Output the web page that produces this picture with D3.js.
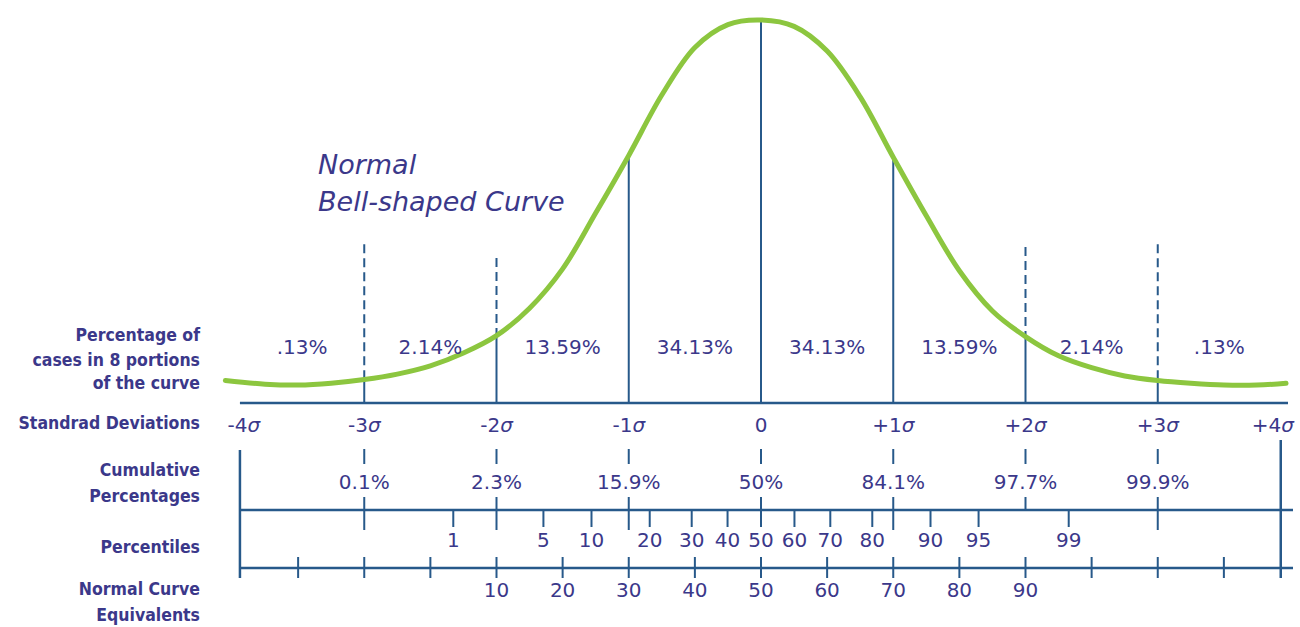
<!DOCTYPE html>
<html><head><meta charset="utf-8">
<script src="https://cdn.jsdelivr.net/npm/d3@7"></script>
<style>body{margin:0;background:#fff} svg{display:block}</style>
</head><body><svg id="c" width="1300" height="627"></svg>
<script>
// ---------- data ----------
const sigmaTicks   = [-4, -3, -2, -1, 0, 1, 2, 3, 4];
const sigmaLabels  = ["-4", "-3", "-2", "-1", "0", "+1", "+2", "+3", "+4"];
const segmentLabels = [".13%", "2.14%", "13.59%", "34.13%", "34.13%", "13.59%", "2.14%", ".13%"];
const cumulativeZ  = [-3, -2, -1, 0, 1, 2, 3];
const cumulativeLabels = ["0.1%", "2.3%", "15.9%", "50%", "84.1%", "97.7%", "99.9%"];
const cumulativeCrossesDown = [true, true, true, false, true, false, true];
const percentiles  = [1, 5, 10, 20, 30, 40, 50, 60, 70, 80, 90, 95, 99];
const nceLabels    = [10, 20, 30, 40, 50, 60, 70, 80, 90];
const nceMinorZ    = [-3.5, -3, -2.5, 2.5, 3, 3.5];
const axisExtent   = [-3.94, 3.93];
// bell curve: z (sigma units) and relative height
const curveZ       = [-4.05, -3.75, -3.5, -3.25, -3.0, -2.75, -2.5, -2.25, -2.0, -1.75, -1.5, -1.25, -1.0, -0.75, -0.5, -0.25, 0, 0.25, 0.5, 0.75, 1.0, 1.25, 1.5, 1.75, 2.0, 2.25, 2.5, 2.75, 3.0, 3.25, 3.5, 3.75, 3.97];
const curveHeight  = [0.006, 0.002, 0.001, 0.003, 0.007, 0.013, 0.022, 0.036, 0.055, 0.085, 0.128, 0.189, 0.252, 0.318, 0.370, 0.395, 0.400, 0.393, 0.366, 0.316, 0.250, 0.186, 0.126, 0.082, 0.054, 0.033, 0.020, 0.011, 0.006, 0.003, 0.001, 0.001, 0.003];
const guideZ       = [-3, -2, 2, 3];
const guideTop     = [0.155, 0.140, 0.152, 0.155];
const leftTitles   = [["Percentage of", "cases in 8 portions", "of the curve"], ["Standrad Deviations"], ["Cumulative", "Percentages"], ["Percentiles"], ["Normal Curve", "Equivalents"]];
const curveTitle   = ["Normal", "Bell-shaped Curve"];

// ---------- helpers ----------
function probit(p) { // inverse standard normal CDF (Abramowitz & Stegun 26.2.23)
  const q = p < 0.5 ? p : 1 - p;
  const t = Math.sqrt(-2 * Math.log(q));
  const z = t - (2.515517 + 0.802853 * t + 0.010328 * t * t) / (1 + 1.432788 * t + 0.189269 * t * t + 0.001308 * t * t * t);
  return p < 0.5 ? -z : z;
}

// ---------- layout ----------
const TEXT = "#3b388a", LINE = "#27598a", GREEN = "#8cc63f";
const FONT = "'DejaVu Sans', sans-serif";
const svg = d3.select("#c");
const x = d3.scaleLinear().domain([-4, 4]).range([232, 1290]);
const y = d3.scaleLinear().domain([0, 0.4]).range([386, 20]);
const baseY = 403, sigLabelY = 425, cumTickTop = 449, cumTickBot = 464, cumLabelY = 482,
      cumLowTop = 497, cumLowBot = 530, pctLineY = 510, pctTickBot = 527, pctLabelY = 540,
      nceLineY = 568, nceTickTop = 557, nceTickBot = 578, nceLabelY = 590, axisRight = 1293;

const curvePts = curveZ.map((z, i) => [z, curveHeight[i]]);
const curveAt = z => {
  const i = d3.bisector(d => d[0]).left(curvePts, z);
  if (curvePts[i][0] === z) return curvePts[i][1];
  const a = curvePts[i - 1], b = curvePts[i];
  return a[1] + (b[1] - a[1]) * (z - a[0]) / (b[0] - a[0]);
};

const g = svg.append("g");

// dashed guides above the curve
g.selectAll(".guide").data(guideZ).join("line")
  .attr("x1", d => x(d)).attr("x2", d => x(d))
  .attr("y1", (d, i) => y(guideTop[i])).attr("y2", d => y(curveAt(d)))
  .attr("stroke", LINE).attr("stroke-width", 2).attr("stroke-dasharray", "9,5");

// solid sigma lines from baseline up to curve
g.selectAll(".sig").data(sigmaTicks.filter(d => Math.abs(d) < 4)).join("line")
  .attr("x1", d => x(d)).attr("x2", d => x(d))
  .attr("y1", baseY).attr("y2", d => y(curveAt(d)))
  .attr("stroke", LINE).attr("stroke-width", 2);

// baseline
g.append("line").attr("x1", x(axisExtent[0])).attr("x2", 1288).attr("y1", baseY).attr("y2", baseY)
  .attr("stroke", LINE).attr("stroke-width", 2.5);

// bell curve
g.append("path").datum(curvePts)
  .attr("d", d3.line().x(d => x(d[0])).y(d => y(d[1])).curve(d3.curveCatmullRom.alpha(0.5)))
  .attr("fill", "none").attr("stroke", GREEN).attr("stroke-width", 5).attr("stroke-linecap", "round");

// curve title
g.append("text").attr("font-family", FONT).attr("font-style", "italic").attr("font-size", 27)
  .attr("fill", TEXT)
  .selectAll("tspan").data(curveTitle).join("tspan")
  .attr("x", 318).attr("y", (d, i) => 174 + i * 37).text(d => d);

// segment percentages
const bounds = [axisExtent[0], -3, -2, -1, 0, 1, 2, 3, axisExtent[1]];
g.selectAll(".seg").data(segmentLabels).join("text")
  .attr("x", (d, i) => (x(bounds[i]) + x(bounds[i + 1])) / 2).attr("y", 347).attr("dy", "0.35em")
  .attr("text-anchor", "middle").attr("font-family", FONT).attr("font-size", 20).attr("fill", TEXT)
  .text(d => d);

// sigma labels
const sl = g.selectAll(".sl").data(sigmaTicks).join("text")
  .attr("x", d => d === -4 ? x(axisExtent[0]) + 4 : d === 4 ? x(axisExtent[1]) - 8 : x(d))
  .attr("y", sigLabelY).attr("dy", "0.35em").attr("text-anchor", "middle")
  .attr("font-family", FONT).attr("font-size", 20).attr("fill", TEXT);
sl.append("tspan").text((d, i) => sigmaLabels[i]);
sl.filter(d => d !== 0).append("tspan").attr("font-style", "italic").text("σ");

// outer vertical lines
g.append("line").attr("x1", x(axisExtent[0])).attr("x2", x(axisExtent[0])).attr("y1", 450).attr("y2", nceTickBot)
  .attr("stroke", LINE).attr("stroke-width", 2.5);
g.append("line").attr("x1", x(axisExtent[1])).attr("x2", x(axisExtent[1])).attr("y1", 440).attr("y2", nceTickBot)
  .attr("stroke", LINE).attr("stroke-width", 2.5);

// cumulative ticks and labels
g.selectAll(".ct").data(cumulativeZ).join("line")
  .attr("x1", d => x(d)).attr("x2", d => x(d)).attr("y1", cumTickTop).attr("y2", cumTickBot)
  .attr("stroke", LINE).attr("stroke-width", 2);
g.selectAll(".ct2").data(cumulativeZ).join("line")
  .attr("x1", d => x(d)).attr("x2", d => x(d)).attr("y1", cumLowTop)
  .attr("y2", (d, i) => cumulativeCrossesDown[i] ? cumLowBot : pctLineY)
  .attr("stroke", LINE).attr("stroke-width", 2);
g.selectAll(".cl").data(cumulativeLabels).join("text")
  .attr("x", (d, i) => x(cumulativeZ[i])).attr("y", cumLabelY).attr("dy", "0.35em")
  .attr("text-anchor", "middle").attr("font-family", FONT).attr("font-size", 20).attr("fill", TEXT)
  .text(d => d);

// percentile axis
g.append("line").attr("x1", x(axisExtent[0])).attr("x2", axisRight).attr("y1", pctLineY).attr("y2", pctLineY)
  .attr("stroke", LINE).attr("stroke-width", 2.5);
g.selectAll(".pt").data(percentiles).join("line")
  .attr("x1", d => x(probit(d / 100))).attr("x2", d => x(probit(d / 100)))
  .attr("y1", pctLineY).attr("y2", pctTickBot).attr("stroke", LINE).attr("stroke-width", 2);
g.selectAll(".pl").data(percentiles).join("text")
  .attr("x", d => x(probit(d / 100))).attr("y", pctLabelY).attr("dy", "0.35em")
  .attr("text-anchor", "middle").attr("font-family", FONT).attr("font-size", 20).attr("fill", TEXT)
  .text(d => d);

// NCE axis
const nceZ = n => (n - 50) / 20;
g.append("line").attr("x1", x(axisExtent[0])).attr("x2", axisRight).attr("y1", nceLineY).attr("y2", nceLineY)
  .attr("stroke", LINE).attr("stroke-width", 2.5);
g.selectAll(".nt").data(nceLabels.map(nceZ).concat(nceMinorZ)).join("line")
  .attr("x1", d => x(d)).attr("x2", d => x(d)).attr("y1", nceTickTop).attr("y2", nceTickBot)
  .attr("stroke", LINE).attr("stroke-width", 2);
g.selectAll(".nl").data(nceLabels).join("text")
  .attr("x", d => x(nceZ(d))).attr("y", nceLabelY).attr("dy", "0.35em")
  .attr("text-anchor", "middle").attr("font-family", FONT).attr("font-size", 20).attr("fill", TEXT)
  .text(d => d);

// left row titles
const titleY = [[335, 360, 383], [423], [470, 496], [547], [589, 615]];
leftTitles.forEach((lines, k) => {
  g.selectAll(".lt" + k).data(lines).join("text")
    .attr("x", 200).attr("y", (d, i) => titleY[k][i]).attr("dy", "0.35em")
    .attr("text-anchor", "end").attr("font-family", "'DejaVu Sans Condensed', 'DejaVu Sans', sans-serif")
    .attr("font-weight", "bold").attr("font-size", 17.5).attr("fill", TEXT)
    .text(d => d);
});
</script></body></html>
